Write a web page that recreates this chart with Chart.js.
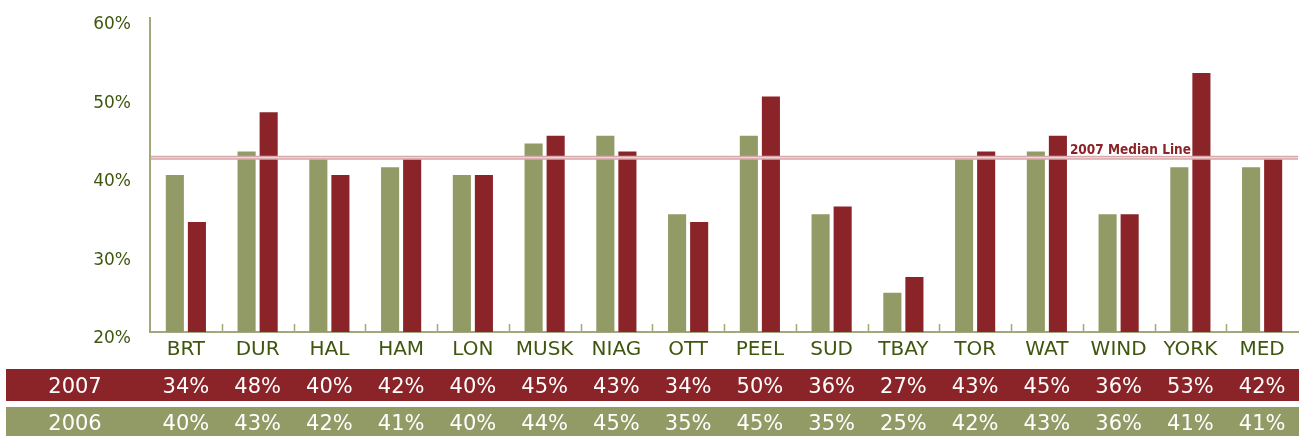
<!DOCTYPE html>
<html>
<head>
<meta charset="utf-8">
<script src="https://cdn.jsdelivr.net/npm/chart.js@4"></script>
<style>
  html, body { margin: 0; padding: 0; background: #ffffff; }
  #wrap { position: relative; width: 1302px; height: 436px; }
</style>
</head>
<body>
<div id="wrap"><canvas id="c" width="1302" height="436"></canvas></div>
<script>
// ---- data ----
const categories = ['BRT','DUR','HAL','HAM','LON','MUSK','NIAG','OTT','PEEL','SUD','TBAY','TOR','WAT','WIND','YORK','MED'];
const values2007 = [34, 48, 40, 42, 40, 45, 43, 34, 50, 36, 27, 43, 45, 35, 53, 42];
const values2006 = [40, 43, 42, 41, 40, 44, 45, 35, 45, 35, 25, 42, 43, 35, 41, 41];
const table2007 = ['34%','48%','40%','42%','40%','45%','43%','34%','50%','36%','27%','43%','45%','36%','53%','42%'];
const table2006 = ['40%','43%','42%','41%','40%','44%','45%','35%','45%','35%','25%','42%','43%','36%','41%','41%'];
const rowLabels = ['2007', '2006'];
const yTicks = [20, 30, 40, 50, 60];
const medianValue = 42.2;
const medianLabel = '2007 Median Line';

const RED = '#8b2428';
const GREEN = '#929b66';
const TEXT = '#3f560e';
const AXIS = '#a3a87c';
const FONT = "'DejaVu Sans', 'Noto Sans', sans-serif";

const extrasPlugin = {
  id: 'extras',
  afterDatasetsDraw(chart) {
    const ctx = chart.ctx;
    const x = chart.scales.x, y = chart.scales.y;
    const area = chart.chartArea;
    const n = categories.length;
    const step = (x.getPixelForValue(1) - x.getPixelForValue(0));
    ctx.save();
    // upward ticks at category boundaries
    ctx.strokeStyle = AXIS;
    ctx.lineWidth = 1.5;
    for (let i = 1; i < n; i++) {
      const bx = Math.round(x.getPixelForValue(i) - step / 2) + 0.5;
      ctx.beginPath();
      ctx.moveTo(bx, area.bottom);
      ctx.lineTo(bx, area.bottom - 8);
      ctx.stroke();
    }
    // median line
    const my = y.getPixelForValue(medianValue);
    ctx.strokeStyle = '#d6a8ab';
    ctx.lineWidth = 4;
    ctx.beginPath();
    ctx.moveTo(area.left + 1, my);
    ctx.lineTo(area.right, my);
    ctx.stroke();
    ctx.strokeStyle = '#f2dfe0';
    ctx.lineWidth = 1;
    ctx.beginPath();
    ctx.moveTo(area.left + 1, my);
    ctx.lineTo(area.right, my);
    ctx.stroke();
    // median label
    ctx.font = "bold 13.5px 'DejaVu Sans Condensed', 'Liberation Sans Narrow', 'DejaVu Sans', sans-serif";
    ctx.textAlign = 'left';
    ctx.textBaseline = 'alphabetic';
    const lx = x.getPixelForValue(12) + 23;
    const ly = my - 4;
    ctx.lineWidth = 3;
    ctx.strokeStyle = '#ffffff';
    ctx.lineJoin = 'round';
    ctx.strokeText(medianLabel, lx, ly);
    ctx.fillStyle = RED;
    ctx.fillText(medianLabel, lx, ly);

    // table rows
    const rows = [
      { color: RED, top: 369, h: 32, base: 393, vals: table2007, label: rowLabels[0] },
      { color: GREEN, top: 407, h: 31, base: 430, vals: table2006, label: rowLabels[1] }
    ];
    ctx.font = '21px ' + FONT;
    ctx.textAlign = 'center';
    rows.forEach(r => {
      ctx.fillStyle = r.color;
      ctx.fillRect(6, r.top, area.right + 1 - 6, r.h);
      ctx.fillStyle = '#ffffff';
      ctx.fillText(r.label, 75, r.base);
      r.vals.forEach((v, i) => {
        ctx.fillText(v, x.getPixelForValue(i), r.base);
      });
    });
    ctx.restore();
  }
};

new Chart(document.getElementById('c'), {
  type: 'bar',
  data: {
    labels: categories,
    datasets: [
      { label: '2006', data: values2006, backgroundColor: GREEN, borderWidth: 0,
        categoryPercentage: 0.615, barPercentage: 0.82 },
      { label: '2007', data: values2007, backgroundColor: RED, borderWidth: 0,
        categoryPercentage: 0.615, barPercentage: 0.82 }
    ]
  },
  options: {
    responsive: false,
    animation: false,
    devicePixelRatio: 1,
    layout: { padding: { top: 18, right: 4, left: 0, bottom: 0 } },
    plugins: { legend: { display: false }, tooltip: { enabled: false } },
    scales: {
      x: {
        grid: { color: 'transparent', drawTicks: false },
        border: { display: true, color: AXIS, width: 2 },
        ticks: { color: TEXT, font: { family: FONT, size: 20 }, padding: 6, maxRotation: 0, autoSkip: false },
        afterFit(scale) { scale.height = 104; scale.paddingLeft = 0; scale.paddingRight = 0; }
      },
      y: {
        min: 20, max: 60,
        afterBuildTicks(scale) { scale.ticks = yTicks.map(v => ({ value: v })); },
        grid: { color: 'transparent', drawTicks: false },
        border: { display: true, color: AXIS, width: 2 },
        ticks: { color: TEXT, font: { family: FONT, size: 17 }, padding: 19, labelOffset: 7,
                 callback: v => v + '%' },
        afterFit(scale) { scale.width = 150; scale.paddingTop = 0; scale.paddingBottom = 0; }
      }
    }
  },
  plugins: [extrasPlugin]
});
</script>
</body>
</html>
